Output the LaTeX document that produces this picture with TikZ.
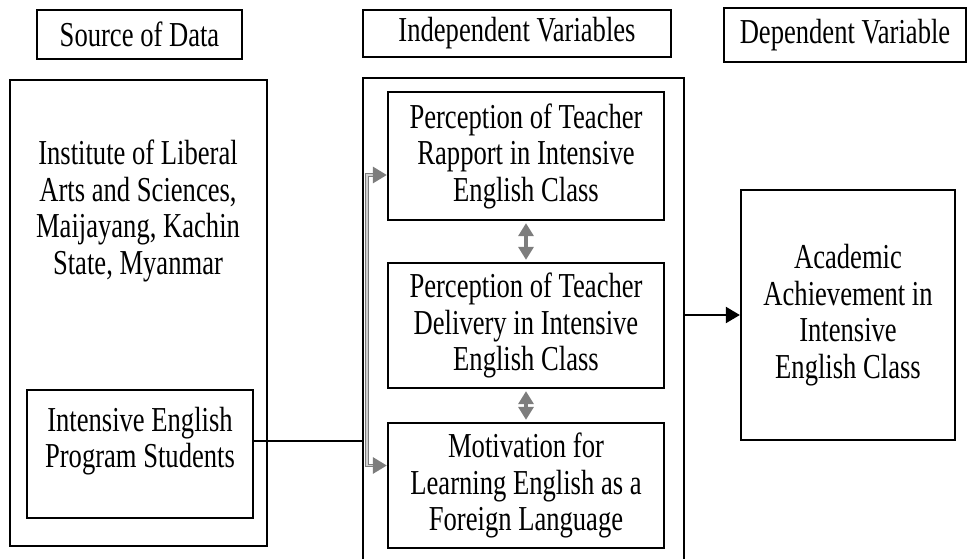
\documentclass[tikz,border=0pt]{standalone}
\usepackage{fontspec}
\setmainfont[FakeStretch=0.76]{Liberation Serif}
\usetikzlibrary{arrows.meta}
\definecolor{linkgray}{RGB}{125,125,125}
\begin{document}
\begin{tikzpicture}[x=1pt,y=-1pt,
  box/.style={draw,line width=2.3pt,align=center,inner sep=0pt,
    font=\fontsize{35}{36.5}\selectfont},
  txt/.style={align=center,inner sep=0pt,font=\fontsize{35}{36.5}\selectfont},
  link/.style={line width=2.3pt,-{Triangle[length=14pt,width=16pt]}},
  duplex/.style={draw=linkgray,line width=3.6pt,
    {Triangle[length=13pt,width=15pt]}-{Triangle[length=13pt,width=15pt]},
    shorten <=2pt,shorten >=2pt},
  bracket/.style={draw=linkgray,double=linkgray!35,double distance=1.3pt,line width=1pt},
  tip/.style={draw=linkgray,line width=3pt,-{Triangle[length=14pt,width=16pt]}}]
  \useasboundingbox (0,0) rectangle (969,559);
  % headings
  \path (139.5,34.5) node[box,minimum width=205pt,minimum height=49pt] (srchead) {Source of Data};
  \path (517,33.5) node[box,minimum width=308pt,minimum height=47pt] (indhead) {Independent Variables};
  \path (845,35) node[box,minimum width=242pt,minimum height=54pt] (dephead) {Dependent Variable};
  % source of data
  \path (138.5,313) node[box,minimum width=257pt,minimum height=466pt] (source) {};
  \path (138,211) node[txt] (inst) {Institute of Liberal\\Arts and Sciences,\\Maijayang, Kachin\\State, Myanmar};
  \path (140,454) node[box,minimum width=226pt,minimum height=128pt] (program) {};
  \path (140,441) node[txt] (prog) {Intensive English\\Program Students};
  % independent variables
  \path (523.5,328) node[box,minimum width=321pt,minimum height=500pt] (indep) {};
  \path (526,156) node[box,minimum width=276pt,minimum height=128pt] (rapport)
    {Perception of Teacher\\Rapport in Intensive\\English Class};
  \path (526,325.5) node[box,minimum width=276pt,minimum height=125pt] (delivery)
    {Perception of Teacher\\Delivery in Intensive\\English Class};
  \path (526,485.5) node[box,minimum width=276pt,minimum height=125pt] (motivation)
    {Motivation for\\Learning English as a\\Foreign Language};
  % dependent variable
  \path (848,315) node[box,minimum width=214pt,minimum height=250pt] (academic)
    {Academic\\Achievement in\\Intensive\\English Class};
  % connectors
  \draw[line width=2.3pt] (prog.east -| program.east) -- (prog.east -| indep.west);
  \coordinate (tap) at (367,0);
  \coordinate (rtap) at ([yshift=-19pt]rapport.west);
  \coordinate (mtap) at ([yshift=20pt]motivation.west);
  \draw[bracket] ([xshift=-12pt]rtap) -- (rtap -| tap) -- (mtap -| tap) -- ([xshift=-12pt]mtap);
  \draw[tip] ([xshift=-14pt]rtap) -- (rtap);
  \draw[tip] ([xshift=-14pt]mtap) -- (mtap);
  \draw[duplex] (rapport.south) -- (delivery.north);
  \draw[duplex] (delivery.south) -- (motivation.north);
  \draw[link] (academic.west -| indep.east) -- (academic.west);
\end{tikzpicture}
\end{document}
